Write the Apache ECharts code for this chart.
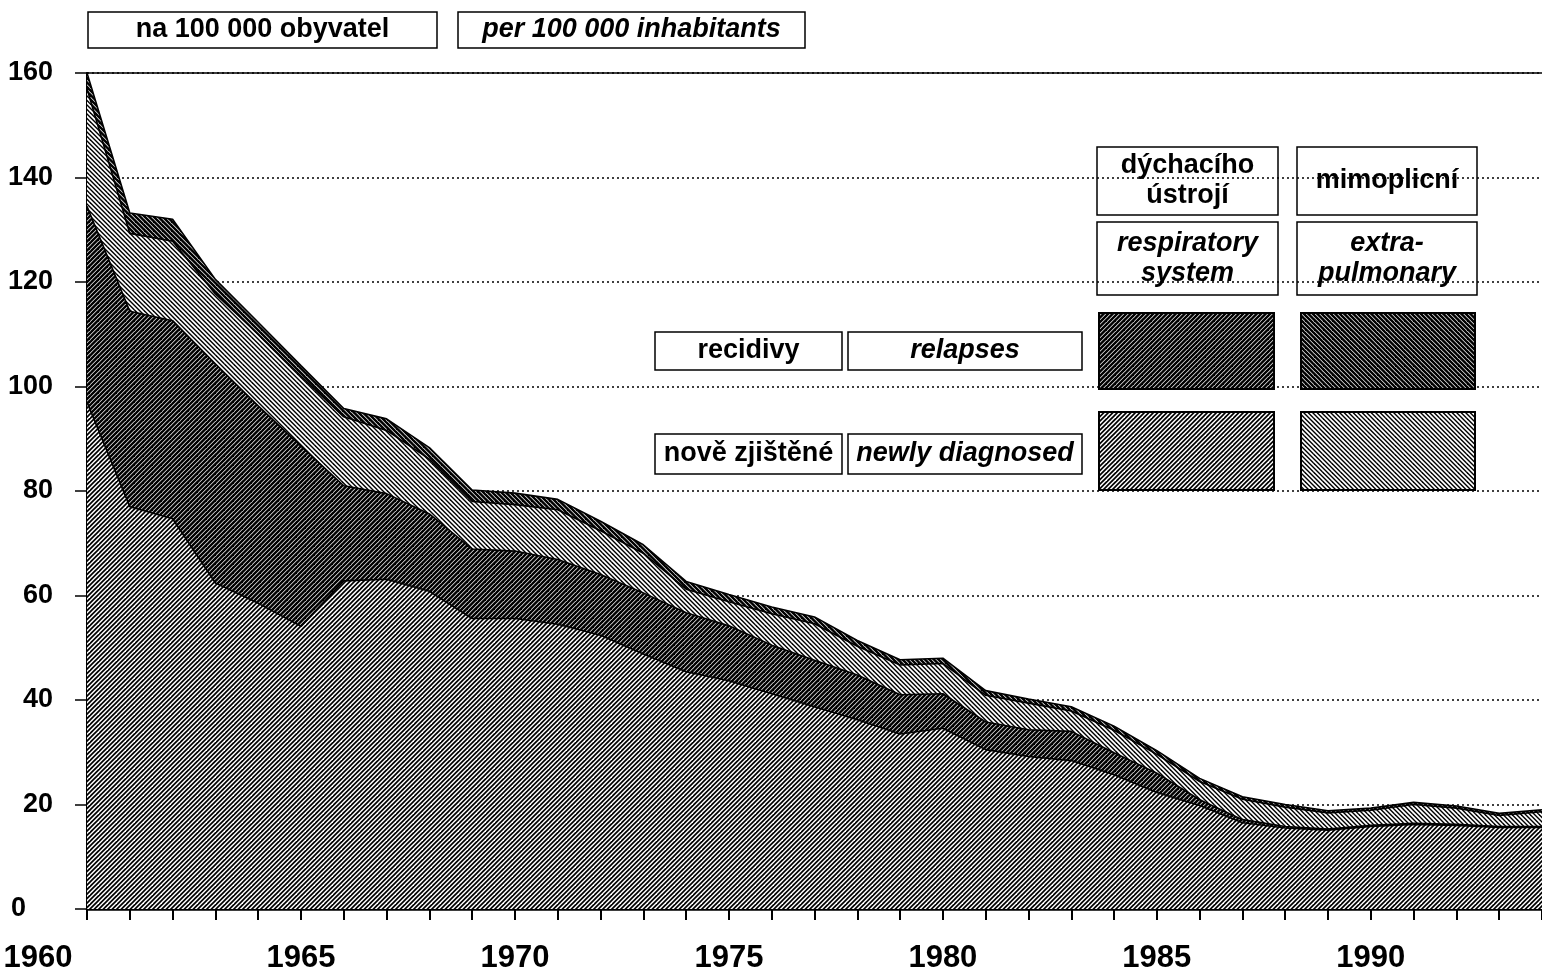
<!DOCTYPE html>
<html>
<head>
    <meta charset="utf-8">
    <title>Tuberkulóza 1960-1994</title>
    <script src="https://cdn.jsdelivr.net/npm/echarts@6/dist/echarts.min.js"></script>
    <style>
        html, body { margin: 0; padding: 0; background: #fff; }
        #chart1 { width: 1542px; height: 974px; }
    </style>
</head>
<body>
<div id="chart1"></div>
<script type="text/javascript">
    // roky
    var years = ['1960','1961','1962','1963','1964','1965','1966','1967','1968','1969',
        '1970','1971','1972','1973','1974','1975','1976','1977','1978','1979',
        '1980','1981','1982','1983','1984','1985','1986','1987','1988','1989',
        '1990','1991','1992','1993','1994'];

    // dýchací ústrojí - nově zjištěné
    var respNew = [97, 77, 74.7, 62.4, 58.5, 54.1, 62.8, 63.1, 60.8, 55.6,
        55.6, 54.5, 52.4, 48.8, 45.4, 43.7, 41.2, 38.7, 36.2, 33.5,
        34.6, 30.5, 29.2, 28.4, 25.7, 22.3, 19.8, 16.5, 15.5, 15.1,
        15.8, 16.2, 16.0, 15.6, 15.6];
    // dýchací ústrojí - recidivy
    var respRelapse = [37.5, 37.4, 37.9, 41.9, 37.8, 34.5, 18.2, 16.4, 14.8, 13.3,
        12.9, 12.4, 11.6, 11.7, 11.3, 10.5, 9.3, 8.9, 8.6, 7.5,
        6.6, 5.3, 5.1, 5.6, 4.2, 3.7, 1.1, 0.6, 0.3, 0.2,
        0.2, 0.2, 0.2, 0.2, 0.2];
    // mimoplicní - nově zjištěné
    var extraNew = [22.5, 14.9, 15.2, 13.4, 13.7, 13.4, 13.2, 12.1, 10.5, 9.1,
        8.9, 9.5, 8.4, 7.6, 4.5, 4.6, 6.0, 7.0, 5.5, 5.7,
        5.8, 5.1, 5.1, 3.9, 4.3, 3.6, 3.5, 3.9, 3.7, 3.1,
        2.9, 3.6, 3.1, 2.1, 2.8];
    // mimoplicní - recidivy
    var extraRelapse = [3, 3.9, 4.2, 2.8, 2.3, 2.0, 1.6, 2.2, 2.2, 2.2,
        2.2, 2.0, 1.8, 1.6, 1.5, 1.4, 1.3, 1.3, 1.1, 1.0,
        1.0, 0.9, 0.8, 0.8, 0.8, 0.7, 0.6, 0.5, 0.5, 0.4,
        0.4, 0.4, 0.4, 0.4, 0.4];

    var FONT = '"Liberation Sans", Arial, sans-serif';

    // šrafování (/// dir = 1, \\\ dir = -1)
    function hatch(lw, dir) {
        var s = 9, step = 4.5;
        var c = document.createElement('canvas');
        c.width = s;
        c.height = s;
        var ctx = c.getContext('2d');
        ctx.fillStyle = '#fff';
        ctx.fillRect(0, 0, s, s);
        ctx.strokeStyle = '#000';
        ctx.lineWidth = lw;
        ctx.lineCap = 'butt';
        for (var k = -4; k <= 8; k++) {
            var cc = k * step;
            ctx.beginPath();
            if (dir > 0) {
                ctx.moveTo(cc + 6, -6);
                ctx.lineTo(cc - s - 6, s + 6);
            } else {
                ctx.moveTo(cc - 6, -6);
                ctx.lineTo(cc + s + 6, s + 6);
            }
            ctx.stroke();
        }
        return {image: c, repeat: 'repeat'};
    }

    var patRespNew = hatch(1.7, 1);
    var patRespRel = hatch(2.5, 1);
    var patExtraNew = hatch(1.45, -1);
    var patExtraRel = hatch(2.5, -1);

    function layer(name, data, pattern) {
        return {
            name: name,
            type: 'line',
            stack: 'total',
            data: data,
            showSymbol: false,
            symbol: 'none',
            lineStyle: {color: '#000', width: 1.6},
            areaStyle: {color: pattern, opacity: 1},
            emphasis: {disabled: true}
        };
    }

    function box(x, y, w, h, text, italic) {
        return {
            type: 'group',
            z: 100,
            children: [
                {type: 'rect', shape: {x: x, y: y, width: w, height: h},
                    style: {fill: '#fff', stroke: '#000', lineWidth: 1.5}},
                {type: 'text', x: x + w / 2, y: y + h / 2,
                    style: {text: text, align: 'center', verticalAlign: 'middle',
                        fontSize: 27, fontWeight: 'bold', fontStyle: italic ? 'italic' : 'normal',
                        fontFamily: FONT, fill: '#000', lineHeight: 30}}
            ]
        };
    }

    function swatch(x, y, w, h, pattern) {
        return {type: 'rect', z: 100, shape: {x: x, y: y, width: w, height: h},
            style: {fill: pattern, stroke: '#000', lineWidth: 2}};
    }

    var myChart1 = echarts.init(document.getElementById('chart1'));

    myChart1.setOption({
        animation: false,
        backgroundColor: '#fff',
        grid: {left: 87, right: -8, top: 73, bottom: 63},
        xAxis: [{
            type: 'category',
            data: years,
            boundaryGap: false,
            axisLine: {lineStyle: {color: '#000', width: 2.5}},
            axisTick: {interval: 0, length: 11, lineStyle: {color: '#000', width: 2}},
            axisLabel: {
                interval: function (i, v) { return Number(v) % 5 === 0; },
                formatter: function (v) { return v === '1960' ? '{first|' + v + '}' : v; },
                margin: 34, color: '#000', fontSize: 31, fontWeight: 'bold', fontFamily: FONT,
                rich: {first: {fontSize: 31, fontWeight: 'bold', fontFamily: FONT, color: '#000',
                    padding: [0, 98, 0, 0]}}
            },
            splitLine: {show: false}
        }, {
            type: 'category',
            data: years,
            position: 'top',
            boundaryGap: false,
            axisLine: {lineStyle: {color: '#000', width: 1.5}},
            axisTick: {show: false},
            axisLabel: {show: false}
        }],
        yAxis: {
            type: 'value',
            min: 0,
            max: 160,
            interval: 20,
            axisLine: {show: true, lineStyle: {color: '#000', width: 2}},
            axisTick: {show: true, length: 12, lineStyle: {color: '#000', width: 1.5}},
            axisLabel: {
                margin: 34, color: '#000', fontSize: 27, fontWeight: 'bold', fontFamily: FONT,
                formatter: function (v) { return v === 0 ? '{zero|0}' : String(v); },
                rich: {zero: {fontSize: 27, fontWeight: 'bold', fontFamily: FONT, color: '#000',
                    padding: [0, 27, 0, 0]}}
            },
            splitLine: {lineStyle: {color: '#000', width: 1.5, type: [2, 3]}}
        },
        series: [
            layer('dýchací ústrojí - nově zjištěné', respNew, patRespNew),
            layer('dýchací ústrojí - recidivy', respRelapse, patRespRel),
            layer('mimoplicní - nově zjištěné', extraNew, patExtraNew),
            layer('mimoplicní - recidivy', extraRelapse, patExtraRel)
        ],
        graphic: [
            box(88, 12, 349, 36, 'na 100 000 obyvatel', false),
            box(458, 12, 347, 36, 'per 100 000 inhabitants', true),
            box(1097, 147, 181, 68, 'dýchacího\nústrojí', false),
            box(1297, 147, 180, 68, 'mimoplicní', false),
            box(1097, 222, 181, 73, 'respiratory\nsystem', true),
            box(1297, 222, 180, 73, 'extra-\npulmonary', true),
            box(655, 332, 187, 38, 'recidivy', false),
            box(848, 332, 234, 38, 'relapses', true),
            box(655, 434, 187, 40, 'nově zjištěné', false),
            box(848, 434, 234, 40, 'newly diagnosed', true),
            swatch(1099, 313, 175, 76, patRespRel),
            swatch(1301, 313, 174, 76, patExtraRel),
            swatch(1099, 412, 175, 78, patRespNew),
            swatch(1301, 412, 174, 78, patExtraNew)
        ]
    });
</script>
</body>
</html>
